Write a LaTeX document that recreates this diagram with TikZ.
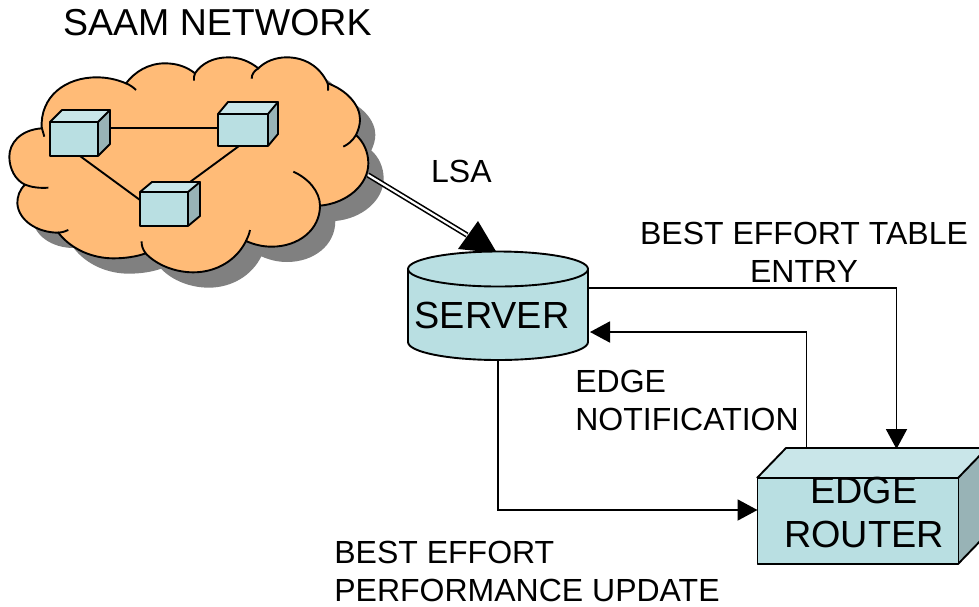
\documentclass[tikz,border=0pt]{standalone}
\usepackage{fontspec}
\setmainfont{Liberation Sans}
\usetikzlibrary{arrows.meta,calc}
\definecolor{boxfront}{HTML}{B9DFE2}
\definecolor{boxtop}{HTML}{C9E6E9}
\definecolor{boxside}{HTML}{98B3B6}
\definecolor{cloudfill}{HTML}{FFBB77}
\definecolor{cloudshadow}{HTML}{808080}
\newcommand{\cloudoutline}{
 (125,265) .. controls (60,270) and (28,310) .. (28,350)
 .. controls (28,385) and (45,420) .. (75,434)
 .. controls (58,450) and (52,470) .. (52,490)
 .. controls (55,540) and (110,578) .. (175,578)
 .. controls (215,630) and (280,655) .. (340,655)
 .. controls (375,655) and (410,650) .. (437,640)
 .. controls (470,675) and (525,697) .. (580,697)
 .. controls (650,697) and (710,660) .. (738,603)
 .. controls (765,615) and (790,620) .. (815,620)
 .. controls (895,620) and (960,570) .. (960,497)
 .. controls (1040,490) and (1105,435) .. (1105,370)
 .. controls (1105,335) and (1090,305) .. (1068,285)
 .. controls (1075,270) and (1080,255) .. (1080,238)
 .. controls (1080,195) and (1040,150) .. (983,130)
 .. controls (960,80) and (915,52) .. (860,52)
 .. controls (825,52) and (795,65) .. (775,85)
 .. controls (750,65) and (720,52) .. (685,52)
 .. controls (640,52) and (605,70) .. (585,100)
 .. controls (560,80) and (530,70) .. (495,70)
 .. controls (445,70) and (405,95) .. (378,130)
 .. controls (350,118) and (320,112) .. (290,112)
 .. controls (195,112) and (120,170) .. (125,265) -- cycle}
\tikzset{
 x=1pt,y=-1pt,
 link/.style={draw=black,line width=1.9pt},
 conn/.style={link,-{Triangle[length=20pt,width=21pt]}},
 face/.style={draw=black,line width=1.9pt,line join=round},
 label/.style={inner sep=0pt,font=\fontsize{32}{38}\selectfont,align=left},
 biglabel/.style={inner sep=0pt,font=\fontsize{37.8}{44}\selectfont,align=center},
}
% args: name, left, top, right, bottom, depthx, depthy
\newcommand{\cube}[7]{
 \fill[boxtop] (#2,#3) -- ++(#6,-#7) -- (#4+#6,#3-#7) -- (#4,#3) -- cycle;
 \fill[boxside] (#4,#3) -- ++(#6,-#7) -- (#4+#6,#5-#7) -- (#4,#5) -- cycle;
 \draw[face] (#2,#3) -- ++(#6,-#7) -- (#4+#6,#3-#7) -- (#4,#3) (#4+#6,#3-#7) -- (#4+#6,#5-#7) -- (#4,#5);
 \node[face,fill=boxfront,inner sep=0pt,outer sep=0pt,minimum width=#4-#2,minimum height=#5-#3,anchor=north west] (#1) at (#2,#3) {};
}
\begin{document}
\begin{tikzpicture}
\useasboundingbox (0,0) rectangle (979,606);
\clip (0,0) rectangle (979,606);
\coordinate (lsastart) at (368,175);
\coordinate (lsaend) at (467,235);
\begin{scope}[shift={(0,40)},scale=1/3]
 \fill[cloudshadow,shift={(46,46)}] \cloudoutline;
 \draw[fill=cloudfill,line width=1.9pt] \cloudoutline;
 \begin{scope}[line width=1.9pt]
 \draw (125,262) -- (133,290);
 \draw (75,434) .. controls (95,442) and (120,445) .. (145,443);
 \draw (175,578) .. controls (187,577) and (197,574) .. (205,570);
 \draw (437,640) .. controls (428,628) and (424,615) .. (425,604);
 \draw (738,603) .. controls (743,592) and (748,582) .. (750,570);
 \draw (960,497) .. controls (960,455) and (925,415) .. (880,395);
 \draw (1068,285) .. controls (1058,302) and (1045,313) .. (1030,320);
 \draw (983,130) .. controls (985,138) and (985,145) .. (984,152);
 \draw (775,85) .. controls (762,93) and (755,103) .. (755,116);
 \draw (585,100) .. controls (582,107) and (581,114) .. (582,122);
 \draw (378,130) .. controls (390,135) and (400,142) .. (408,150);
 \end{scope}
\end{scope}
\cube{c1}{50}{122}{98}{156}{12}{12}
\cube{c2}{218}{114}{268}{146}{10}{12}
\cube{c3}{140}{192}{188}{226}{12}{10}
\draw[link] ($(c1.east)+(12,-11)$) -- ($(c2.west)+(0,-2)$);
\draw[link] ($(c1.south)+(6,0)$) -- ($(c3.west)+(0,-9)$);
\draw[link] ($(c2.south)+(-4,0)$) -- ($(c3.north)+(26,-10)$);
% LSA double line
\draw[line width=5.4pt] (lsastart) -- (lsaend);
\draw[white,line width=2.2pt] (lsastart) -- (lsaend);
\fill (478,221) -- (458,249) -- (497,253) -- cycle;
% server
\node[inner sep=0pt,outer sep=0pt,minimum width=180pt,minimum height=91pt,anchor=north west] (server) at (408,269) {};
\draw[face,fill=boxfront] (408,269) -- (408,342) .. controls (408,352) and (448,360) .. (498,360) .. controls (548,360) and (588,352) .. (588,342) -- (588,269);
\draw[face,fill=boxfront] (498,269) ellipse [x radius=90,y radius=17.5];
\node[biglabel,anchor=base] (servertext) at (492,328) {SERVER};
% edge router
\fill[boxtop] (757,478) -- (786,448) -- (987,448) -- (958,478) -- cycle;
\fill[boxside] (958,478) -- (987,448) -- (987,534) -- (958,564) -- cycle;
\draw[face] (757,478) -- (786,448) -- (987,448) -- (958,478);
\draw[face] (958,564) -- (987,534);
\node[face,fill=boxfront,inner sep=0pt,outer sep=0pt,minimum width=201pt,minimum height=86pt,anchor=north west] (router) at (757.5,478) {};
\node[biglabel] (routertext) at (864,512) {EDGE\\ROUTER};
% connectors
\coordinate (rtop1) at (896.5,449);
\coordinate (rtop2) at (806.5,448);
\coordinate (sout) at ($(server.north east)+(0,19)$);
\coordinate (sin) at ($(server.north east)+(2,63)$);
\coordinate (sbot) at ($(server.south)$);
\coordinate (rin) at ($(router.west)+(0,-11)$);
\draw[conn] (sout) -| (rtop1);
\draw[conn] (rtop2) |- (sin);
\draw[conn] (sbot) |- (rin);
% labels
\node[inner sep=0pt,font=\fontsize{37.5}{44}\selectfont,anchor=base west] (title) at (63,35) {SAAM NETWORK};
\node[label,anchor=base west] (lsa) at (431,182) {LSA};
\node[label,align=center] (bet) at (804,252) {BEST EFFORT TABLE\\ENTRY};
\node[label] (en) at (687,400) {EDGE\\NOTIFICATION};
\node[label] (bep) at (527,571) {BEST EFFORT\\PERFORMANCE UPDATE};
\end{tikzpicture}
\end{document}
